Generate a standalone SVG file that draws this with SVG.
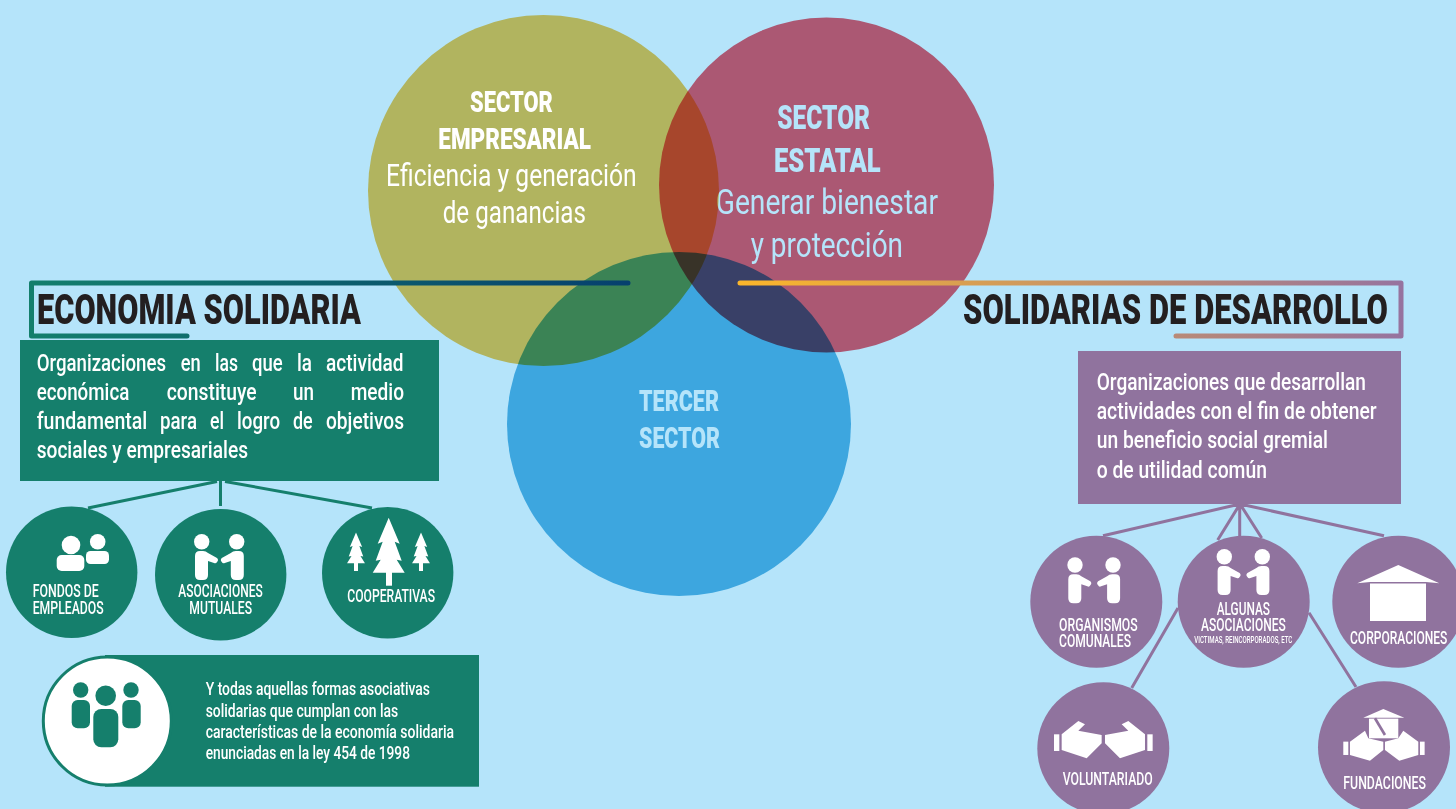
<svg xmlns="http://www.w3.org/2000/svg" xmlns:xlink="http://www.w3.org/1999/xlink" width="1456" height="809" viewBox="0 0 1456 809">
<style>
text{font-family:"Roboto","Liberation Sans",sans-serif;fill:#fff}
.b{font-weight:900}
.h{font-weight:900;font-size:43px;fill:#231f20}
.c1{font-size:23px;font-weight:500}
.lb{font-size:18px;font-weight:500}
.t4{font-size:19px;font-weight:500}
.s{fill:#b5e4fa}
.m{mix-blend-mode:multiply}
.gf{fill:#157f6c}
.pf{fill:#90739e}
.w{fill:#fff}
.gl{stroke:#157f6c;stroke-width:3;fill:none}
.pl{stroke:#90739e;stroke-width:3;fill:none}
</style>
<defs>
<linearGradient id="gL" gradientUnits="userSpaceOnUse" x1="31" y1="0" x2="629" y2="0"><stop offset="0" stop-color="#137f6c"/><stop offset="1" stop-color="#06406e"/></linearGradient>
<linearGradient id="gR" gradientUnits="userSpaceOnUse" x1="738" y1="0" x2="1402" y2="0"><stop offset="0" stop-color="#fbb62a"/><stop offset="1" stop-color="#96739f"/></linearGradient>
<path id="pL" d="M195 556q0-5 5-5h3q3 0 5 2l9 5q2 2 0 4q-1 2-3 1l-6-2v14q0 5-5 5h-3q-5 0-5-5z"/>
<path id="pR" d="M243.8 556q0-5-5-5h-3q-3 0-5 2l-9 5q-2 2 0 4q1 2 3 1l6-2v14q0 5 5 5h3q5 0 5-5z"/>
<g id="shake"><circle cx="201.7" cy="541.7" r="7.7"/><use xlink:href="#pL"/></g>
<g id="shakeR"><circle cx="236.7" cy="541.7" r="7.7"/><use xlink:href="#pR"/></g>
<polygon id="tree" points="0,-55 11,-29 6,-31 13,-12 8,-13 16,0 -16,0 -8,-13 -13,-12 -6,-31 -11,-29"/>
</defs>
<rect width="1456" height="809" fill="#b5e4fa"/>

<g id="sector-estatal">
<circle cx="826.5" cy="185" r="167.5" fill="#ab5873"/>
<text class="b s" font-size="33" x="777.3" y="129" textLength="92.7" lengthAdjust="spacingAndGlyphs">SECTOR</text>
<text class="b s" font-size="33" x="774" y="171.7" textLength="106.7" lengthAdjust="spacingAndGlyphs">ESTATAL</text>
<text class="s" font-size="35" x="715.7" y="214" textLength="222.3" lengthAdjust="spacingAndGlyphs">Generar bienestar</text>
<text class="s" font-size="35" x="750.7" y="256.5" textLength="152.3" lengthAdjust="spacingAndGlyphs">y protección</text>
</g>
<g id="sector-empresarial">
<circle class="m" cx="543.5" cy="190.5" r="175.5" fill="#f9ca61"/>
<text class="b" font-size="29" x="470" y="111.7" textLength="82.7" lengthAdjust="spacingAndGlyphs">SECTOR</text>
<text class="b" font-size="29" x="438.3" y="148.7" textLength="152.7" lengthAdjust="spacingAndGlyphs">EMPRESARIAL</text>
<text font-size="32" x="386" y="185.7" textLength="250.7" lengthAdjust="spacingAndGlyphs">Eficiencia y generación</text>
<text font-size="32" x="442.7" y="223" textLength="143.3" lengthAdjust="spacingAndGlyphs">de ganancias</text>
</g>
<g id="tercer-sector">
<circle class="m" cx="679" cy="424" r="172" fill="#55bae4"/>
<text class="b s" font-size="29" x="639" y="410.5" textLength="80" lengthAdjust="spacingAndGlyphs">TERCER</text>
<text class="b s" font-size="29" x="639" y="447.5" textLength="81" lengthAdjust="spacingAndGlyphs">SECTOR</text>
</g>

<g id="connectors">
<path class="gl" d="M217 481.5L88 508M220.5 481V506M225 481.5L372 508"/>
<path class="pl" d="M1240 504L1103 535.7M1240 504L1217.7 540M1239.7 504V536M1240 504L1261.7 538M1240 504L1384 535.7M1178 608L1131.7 688M1309 612.7L1356 687"/>
</g>

<g id="economia-solidaria">
<path d="M628 283H31.5V336H187" fill="none" stroke="url(#gL)" stroke-width="5" stroke-linecap="round" stroke-linejoin="round"/>
<text class="h" x="37" y="324" textLength="324" lengthAdjust="spacingAndGlyphs">ECONOMIA SOLIDARIA</text>
</g>
<g id="solidarias-desarrollo">
<path d="M740 283H1401V336H1176" fill="none" stroke="url(#gR)" stroke-width="5" stroke-linecap="round" stroke-linejoin="round"/>
<text class="h" x="963" y="324" textLength="425" lengthAdjust="spacingAndGlyphs">SOLIDARIAS DE DESARROLLO</text>
</g>

<g id="definicion-economia">
<rect class="gf" x="20" y="340" width="419" height="141"/>
<text class="c1" y="371"><tspan x="36.7" textLength="129.3" lengthAdjust="spacingAndGlyphs">Organizaciones</tspan> <tspan x="180.7" textLength="20" lengthAdjust="spacingAndGlyphs">en</tspan> <tspan x="215" textLength="23" lengthAdjust="spacingAndGlyphs">las</tspan> <tspan x="252" textLength="30.7" lengthAdjust="spacingAndGlyphs">que</tspan> <tspan x="297" textLength="15" lengthAdjust="spacingAndGlyphs">la</tspan> <tspan x="326" textLength="77.5" lengthAdjust="spacingAndGlyphs">actividad</tspan></text>
<text class="c1" y="400"><tspan x="36.7" textLength="92.6" lengthAdjust="spacingAndGlyphs">económica</tspan> <tspan x="166.7" textLength="90" lengthAdjust="spacingAndGlyphs">constituye</tspan> <tspan x="293" textLength="21" lengthAdjust="spacingAndGlyphs">un</tspan> <tspan x="350.7" textLength="53.3" lengthAdjust="spacingAndGlyphs">medio</tspan></text>
<text class="c1" y="429"><tspan x="36.7" textLength="110.6" lengthAdjust="spacingAndGlyphs">fundamental</tspan> <tspan x="160" textLength="37" lengthAdjust="spacingAndGlyphs">para</tspan> <tspan x="210" textLength="14" lengthAdjust="spacingAndGlyphs">el</tspan> <tspan x="237" textLength="43" lengthAdjust="spacingAndGlyphs">logro</tspan> <tspan x="293" textLength="19.7" lengthAdjust="spacingAndGlyphs">de</tspan> <tspan x="326" textLength="78" lengthAdjust="spacingAndGlyphs">objetivos</tspan></text>
<text class="c1" x="36.7" y="458" textLength="211.3" lengthAdjust="spacingAndGlyphs">sociales y empresariales</text>
</g>

<g id="definicion-solidarias">
<rect class="pf" x="1078" y="351" width="323" height="153"/>
<text class="c1" x="1096.7" y="390" textLength="269.3" lengthAdjust="spacingAndGlyphs">Organizaciones que desarrollan</text>
<text class="c1" x="1096.7" y="419" textLength="280" lengthAdjust="spacingAndGlyphs">actividades con el fin de obtener</text>
<text class="c1" x="1096.7" y="448" textLength="231.3" lengthAdjust="spacingAndGlyphs">un beneficio social gremial</text>
<text class="c1" x="1096.7" y="478" textLength="170.3" lengthAdjust="spacingAndGlyphs">o de utilidad común</text>
</g>

<g id="fondos-de-empleados">
<circle class="gf" cx="71.7" cy="572.3" r="65.7"/>
<g class="w"><circle cx="71" cy="545" r="9.3"/><rect x="56.7" y="555" width="27.6" height="16" rx="5"/><circle cx="97.7" cy="541.7" r="7.8"/><rect x="86" y="551" width="23" height="13" rx="4.5"/></g>
<text class="lb" x="32.7" y="597.3" textLength="66" lengthAdjust="spacingAndGlyphs">FONDOS DE</text>
<text class="lb" x="32.7" y="614.3" textLength="71" lengthAdjust="spacingAndGlyphs">EMPLEADOS</text>
</g>
<g id="asociaciones-mutuales">
<circle class="gf" cx="220.7" cy="574.7" r="65.7"/>
<g class="w"><use xlink:href="#shake"/><use xlink:href="#shakeR"/></g>
<text class="lb" x="178.3" y="597.3" textLength="84.4" lengthAdjust="spacingAndGlyphs">ASOCIACIONES</text>
<text class="lb" x="189.3" y="614.3" textLength="62.7" lengthAdjust="spacingAndGlyphs">MUTUALES</text>
</g>
<g id="cooperativas">
<circle class="gf" cx="387.7" cy="572.7" r="65.7"/>
<g class="w">
<use xlink:href="#tree" transform="translate(388.7,572.7)"/><rect x="386" y="572" width="6" height="13.7"/>
<use xlink:href="#tree" transform="translate(356,563.3) scale(.56,.56)"/><rect x="354" y="563" width="4" height="8"/>
<use xlink:href="#tree" transform="translate(421,563.3) scale(.56,.56)"/><rect x="419" y="563" width="4" height="8"/>
</g>
<text class="lb" x="347.3" y="602" textLength="87.7" lengthAdjust="spacingAndGlyphs">COOPERATIVAS</text>
</g>

<g id="otras-formas">
<rect class="gf" x="105" y="655" width="374" height="131.7"/>
<circle cx="107.3" cy="721" r="64" fill="#fff" stroke="#157f6c" stroke-width="3"/>
<g class="gf"><circle cx="80.7" cy="690" r="7.7"/><circle cx="131" cy="690" r="7.7"/><circle cx="105.7" cy="695.7" r="10.3"/><rect x="71.7" y="700" width="18.3" height="28.3" rx="6"/><rect x="122.3" y="700" width="18.4" height="28.3" rx="6"/><rect x="93.3" y="709" width="25" height="38.3" rx="8"/></g>
<text class="t4" x="205.7" y="695" textLength="224.3" lengthAdjust="spacingAndGlyphs">Y todas aquellas formas asociativas</text>
<text class="t4" x="205.7" y="716.7" textLength="192.6" lengthAdjust="spacingAndGlyphs">solidarias que cumplan con las</text>
<text class="t4" x="205.7" y="738.3" textLength="248.3" lengthAdjust="spacingAndGlyphs">características de la economía solidaria</text>
<text class="t4" x="205.7" y="759" textLength="204.3" lengthAdjust="spacingAndGlyphs">enunciadas en la ley 454 de 1998</text>
</g>

<g id="organismos-comunales">
<circle class="pf" cx="1096.3" cy="601.7" r="66"/>
<g class="w" transform="translate(873.3,23.3)"><use xlink:href="#shake"/><use xlink:href="#shakeR" x="3"/></g>
<text class="lb" x="1059" y="631" textLength="78.7" lengthAdjust="spacingAndGlyphs">ORGANISMOS</text>
<text class="lb" x="1059" y="646.7" textLength="72" lengthAdjust="spacingAndGlyphs">COMUNALES</text>
</g>
<g id="algunas-asociaciones">
<circle class="pf" cx="1243.7" cy="601.7" r="66"/>
<g class="w" transform="translate(1022.6,15)"><use xlink:href="#shake"/><use xlink:href="#shakeR" x="3"/></g>
<text class="lb" x="1216.7" y="615" textLength="53.3" lengthAdjust="spacingAndGlyphs">ALGUNAS</text>
<text class="lb" x="1201" y="631" textLength="84.7" lengthAdjust="spacingAndGlyphs">ASOCIACIONES</text>
<text font-size="8.5" font-weight="500" x="1194.3" y="642.7" textLength="98" lengthAdjust="spacingAndGlyphs">VICTIMAS, REINCORPORADOS, ETC</text>
</g>
<g id="corporaciones">
<circle class="pf" cx="1398.3" cy="601.7" r="66"/>
<g class="w"><polygon points="1357.3,583.3 1398.3,565 1439.3,583.3 1426,582 1370,582"/><rect x="1370" y="583.5" width="56" height="37.5"/></g>
<text class="lb" x="1350" y="644" textLength="97.3" lengthAdjust="spacingAndGlyphs">CORPORACIONES</text>
</g>
<g id="voluntariado">
<circle class="pf" cx="1103.3" cy="748.3" r="66"/>
<g class="w" transform="translate(1020,490) scale(.3333)"><rect x="102" y="733" width="16" height="50"/><rect x="382" y="733" width="16" height="50"/><polygon points="125,733 175,693 195,703 175,722 245,735 245,760 200,805 125,780"/><polygon points="375,733 325,693 305,703 325,722 255,735 255,760 300,805 375,780"/></g>
<text class="lb" x="1062.7" y="785" textLength="90" lengthAdjust="spacingAndGlyphs">VOLUNTARIADO</text>
</g>
<g id="fundaciones">
<circle class="pf" cx="1384" cy="747.3" r="66"/>
<g class="w" transform="translate(1020,490) scale(.3333)"><rect x="970" y="755" width="15" height="40"/><rect x="1200" y="755" width="14" height="40"/><polygon points="990,755 1035,722 1045,745 1090,755 1090,780 1050,812 990,795"/><polygon points="1195,755 1150,722 1135,745 1095,755 1095,780 1138,812 1195,795"/><polygon points="1030,683 1090,657 1153,683"/><rect x="1047" y="686" width="88" height="59"/><path d="M1065 685L1095 735" stroke="#90739e" stroke-width="8" fill="none"/></g>
<text class="lb" x="1343.3" y="789" textLength="82.7" lengthAdjust="spacingAndGlyphs">FUNDACIONES</text>
</g>
</svg>
